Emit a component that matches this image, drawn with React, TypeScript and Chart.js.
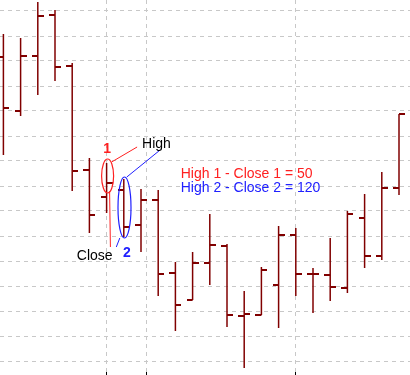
import React, { useEffect, useRef } from "react";
import { Chart, registerables } from "chart.js";

Chart.register(...registerables);

// ---- data (price in points) ----
const BAR_INDEX = [0, 1, 2, 3, 4, 5, 6, 7, 8, 9, 10, 11, 12, 13, 14, 15, 16, 17, 18, 19, 20, 21, 22, 23];
const OPEN = [822.5, 687.5, 825, 927.5, 800, 540, 472.5, 490, 402.5, 465, 282.5, 215, 307.5, 350, 175, 177.5, 252.5, 377.5, 280, 277.5, 245, 420, 325, 495];
const HIGH = [880, 870, 960, 940, 807.5, 570, 557.5, 517.5, 492.5, 490, 310, 335, 430, 355, 237.5, 297.5, 400, 395, 295, 370, 437.5, 480, 535, 680];
const LOW = [577.5, 675, 727.5, 762.5, 487.5, 382.5, 432.5, 372.5, 335, 225, 137.5, 215, 252.5, 147.5, 45, 177.5, 145, 225, 182.5, 212.5, 232.5, 295, 315, 477.5];
const CLOSE = [695, 825, 925, 797.5, 537.5, 427.5, 507.5, 397.5, 465, 280, 202.5, 307.5, 352.5, 177.5, 180, 290, 377.5, 280, 280, 247.5, 430, 325, 495, 680];

const PRICE_GRID = [62.5, 125, 187.5, 250, 312.5, 375, 437.5, 500, 562.5, 625, 687.5, 750, 812.5, 875, 937.5];
const SESSION_MARKS = [6, 8.3, 17];
const Y_MIN = 35;
const Y_MAX = 965;
const X_MIN = -0.1977;
const X_MAX = 23.6395;

// the two bars being compared
const MARKED = [6, 7];
const MARK_LABELS = ["1", "2"];

const BAR_COLOR = "#800000";
const GRID_COLOR = "#c8c8c8";
const RED = "#ff2020";
const BLUE = "#2020ff";
const FONT = '"Liberation Sans", Arial, sans-serif';

function makeTick(side: "left" | "right") {
  const c = document.createElement("canvas");
  c.width = 12;
  c.height = 2;
  const g = c.getContext("2d")!;
  g.fillStyle = BAR_COLOR;
  if (side === "right") g.fillRect(6, 0, 6, 2);
  else g.fillRect(0, 0, 6, 2);
  return c;
}

const notesPlugin = {
  id: "notes",
  afterDatasetsDraw(chart: any) {
    const { ctx } = chart;
    const xs = chart.scales.x;
    const ys = chart.scales.y;
    const [a, b] = MARKED;
    const xa = xs.getPixelForValue(a);
    const xb = xs.getPixelForValue(b);
    const hiA = ys.getPixelForValue(HIGH[a]);
    const clA = ys.getPixelForValue(CLOSE[a]);
    const hiB = ys.getPixelForValue(HIGH[b]);
    const clB = ys.getPixelForValue(CLOSE[b]);

    ctx.save();
    // ellipses
    const topA = hiA - 4, botA = clA + 10;
    const topB = hiB - 2, botB = clB + 11;
    ctx.lineWidth = 1.2;
    ctx.strokeStyle = RED;
    ctx.beginPath();
    ctx.ellipse(xa + 1, (topA + botA) / 2, 6, (botA - topA) / 2, 0, 0, Math.PI * 2);
    ctx.stroke();
    ctx.strokeStyle = BLUE;
    ctx.beginPath();
    ctx.ellipse(xb + 0.7, (topB + botB) / 2, 6.5, (botB - topB) / 2, 0, 0, Math.PI * 2);
    ctx.stroke();

    // High label & leaders
    const hx = xa + 35.5;
    const hy = hiA - 15;
    ctx.lineWidth = 1;
    ctx.strokeStyle = RED;
    ctx.beginPath();
    ctx.moveTo(xa + 5, hiA - 1);
    ctx.lineTo(hx - 5, hy - 1);
    ctx.stroke();
    ctx.beginPath();
    ctx.moveTo(xa + 3, clA + 8);
    ctx.lineTo(xa + 3.8, botB + 9);
    ctx.stroke();
    ctx.strokeStyle = BLUE;
    ctx.beginPath();
    ctx.moveTo(xb + 3, topB);
    ctx.lineTo(hx + 18, hy + 2);
    ctx.stroke();
    ctx.beginPath();
    ctx.moveTo(xb - 4, botB);
    ctx.lineTo(xb - 7.5, botB + 9);
    ctx.stroke();

    ctx.font = `14px ${FONT}`;
    ctx.fillStyle = "#000";
    ctx.textBaseline = "alphabetic";
    ctx.textAlign = "left";
    ctx.fillText("High", hx, hy);
    ctx.textAlign = "right";
    ctx.fillText("Close", xa + 6, botB + 22);

    ctx.font = `bold 14px ${FONT}`;
    ctx.textAlign = "center";
    ctx.fillStyle = RED;
    ctx.fillText(MARK_LABELS[0], xa + 0.5, topA - 6);
    ctx.fillStyle = BLUE;
    ctx.fillText(MARK_LABELS[1], xb + 3, botB + 19);

    // difference notes
    const nx = xs.getPixelForValue(9) + 22.5;
    const ny = clA - 5;
    ctx.font = `14px ${FONT}`;
    ctx.textAlign = "left";
    ctx.fillStyle = RED;
    ctx.fillText(`High 1 - Close 1 = ${Math.round(HIGH[a] - CLOSE[a])}`, nx, ny);
    ctx.fillStyle = BLUE;
    ctx.fillText(`High 2 - Close 2 = ${Math.round(HIGH[b] - CLOSE[b])}`, nx, ny + 14);
    ctx.restore();
  },
};

export default function App() {
  const ref = useRef<HTMLCanvasElement>(null);
  useEffect(() => {
    if (!ref.current) return;
    const openTick = makeTick("left");
    const closeTick = makeTick("right");
    const chart = new Chart(ref.current, {
      type: "bar",
      data: {
        datasets: [
          {
            type: "scatter",
            data: BAR_INDEX.map((i) => ({ x: i, y: OPEN[i] })),
            pointStyle: openTick as any,
            pointRadius: 3,
            pointBorderWidth: 0,
            showLine: false,
          } as any,
          {
            type: "scatter",
            data: BAR_INDEX.map((i) => ({ x: i, y: CLOSE[i] })),
            pointStyle: closeTick as any,
            pointRadius: 3,
            pointBorderWidth: 0,
            showLine: false,
          } as any,
          {
            type: "bar",
            data: BAR_INDEX.map((i) => ({ x: i, y: [LOW[i], HIGH[i]] })),
            backgroundColor: BAR_COLOR,
            borderWidth: 0,
            barThickness: 1.5,
            inflateAmount: 0,
          } as any,
        ],
      },
      options: {
        animation: false,
        responsive: false,
        events: [],
        layout: { padding: 0, autoPadding: false },
        plugins: { legend: { display: false }, tooltip: { enabled: false } },
        scales: {
          x: {
            type: "linear",
            position: "bottom",
            min: X_MIN,
            max: X_MAX,
            offset: false,
            afterBuildTicks: (s: any) => {
              s.ticks = SESSION_MARKS.map((v) => ({ value: v }));
            },
            ticks: { display: false },
            grid: {
              offset: false,
              color: GRID_COLOR,
              drawTicks: true,
              tickLength: 3,
              tickColor: "#000",
              tickBorderDash: [],
            },
            border: { display: false, dash: [4, 4] },
          },
          y: {
            type: "linear",
            position: "left",
            min: Y_MIN,
            max: Y_MAX,
            afterBuildTicks: (s: any) => {
              s.ticks = PRICE_GRID.map((v) => ({ value: v }));
            },
            ticks: { display: false },
            grid: { offset: false, color: GRID_COLOR, drawTicks: false },
            border: { display: false, dash: [4, 4] },
          },
        },
      } as any,
      plugins: [notesPlugin],
    });
    return () => chart.destroy();
  }, []);
  return (
    <div style={{ position: "fixed", left: 0, top: 0, width: 410, height: 375, background: "#fff" }}>
      <canvas ref={ref} width={410} height={375} style={{ display: "block" }} />
    </div>
  );
}
